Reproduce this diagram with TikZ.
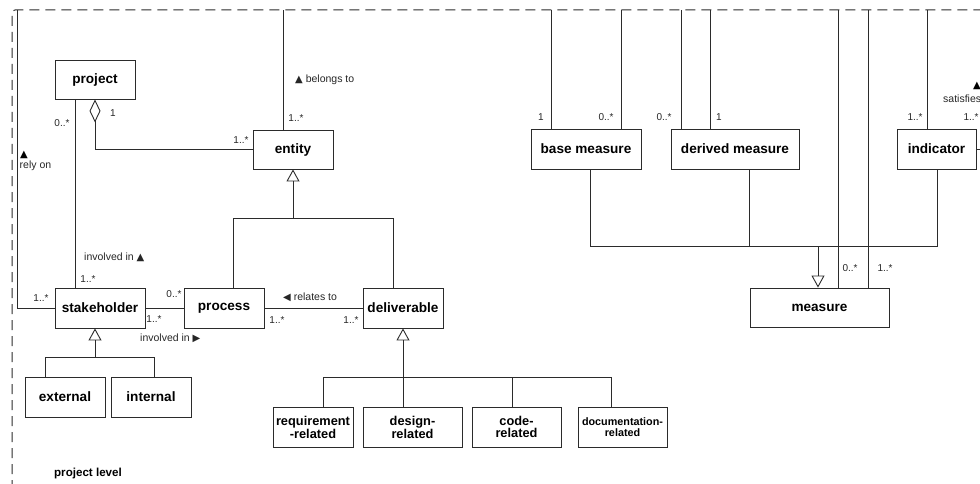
\documentclass[tikz,border=0pt]{standalone}
\usepackage{fontspec}
\setmainfont{Liberation Sans}
\newfontfamily\symfont{DejaVu Sans}
\usetikzlibrary{arrows.meta}
\definecolor{linecol}{HTML}{2B2B2B}
\definecolor{labcol}{HTML}{262626}
\newcommand{\tri}[1]{{\symfont\fontsize{10}{10}\selectfont #1}}

\begin{document}
\begin{tikzpicture}[x=1pt,y=-1pt,
  conn/.style={draw=linecol, line width=0.9pt},
  box/.style={draw=linecol, line width=0.9pt, fill=white, minimum height=40pt,
    inner sep=1pt, align=center, text=black,
    font=\fontsize{13.6}{15}\selectfont\bfseries},
  subbox/.style={box, font=\fontsize{12.8}{11.8}\selectfont\bfseries},
  mult/.style={font=\fontsize{10}{11}\selectfont, text=labcol, inner sep=0pt},
  lab/.style={font=\fontsize{10.5}{12}\selectfont, text=labcol, inner sep=0pt},
  sym/.style={font=\symfont\fontsize{10}{10}\selectfont, text=black, inner sep=0pt},
  gen/.style={conn, -{Triangle[open, length=12pt, width=13pt, line width=0.9pt]}},
  agg/.style={conn, -{Diamond[open, length=23pt, width=11pt, line width=0.9pt]}},
]
\useasboundingbox (0,0) rectangle (980,484);

% package frame
\draw[draw=linecol, line width=1pt, dash pattern=on 10pt off 6pt, rounded corners=3pt]
  (12,490) |- (990,10);

% ---------- project level ----------
\node[box, minimum width=80pt, minimum height=39pt] (project) at (95,79.5) {project};
\node[box, minimum width=80pt, minimum height=39pt] (entity) at (293,149.5) {entity};
\node[box, minimum width=90pt] (stakeholder) at (100,308) {stakeholder};
\node[box, minimum width=80pt] (process) at (224,308) {process};
\node[box, minimum width=80pt] (deliverable) at (403,308) {deliverable};
\node[box, minimum width=80pt] (external) at (65,397) {external};
\node[box, minimum width=80pt] (internal) at (151,397) {internal};
\node[subbox, minimum width=80pt] (reqrel) at (313,427) {requirement\\-related};
\node[subbox, minimum width=99pt] (desrel) at (412.5,427) {design-\\related};
\node[subbox, minimum width=89pt] (coderel) at (516.5,427) {code-\\related};
\node[box, minimum width=89pt, font=\fontsize{10.8}{11.3}\selectfont\bfseries]
  (docrel) at (622.5,427) {documentation-\\related};

\node[font=\fontsize{11.6}{13}\selectfont\bfseries, inner sep=0pt] (pllabel) at (88,473) {project level};

% free ends on the frame
\coordinate (relyTop) at (17,10);
\coordinate (belongsTop) at (283,10);

% rely on
\draw[conn] (stakeholder.west) -| (relyTop);
\node[sym] (relyArrow) at (24,155) {▲};
\node[lab, anchor=west] (relyLab) at (19.5,166) {rely on};
\node[mult] (m1) at (41,298) {1..*};

% project -- stakeholder (involved in)
\draw[conn] (project.south -| 75,0) -- (stakeholder.north -| 75,0);
\node[mult] (m2) at (62,123) {0..*};
\node[mult] (m3) at (88,279) {1..*};
\node[lab, anchor=west] (invLab1) at (84,257) {involved in \tri{▲}};

% project <>-- entity
\draw[agg] (entity.west) -| (project.south);
\node[mult] (m4) at (113,113) {1};
\node[mult] (m5) at (241,140) {1..*};

% entity belongs to
\draw[conn] (entity.north -| belongsTop) -- (belongsTop);
\node[mult] (m6) at (296,118) {1..*};
\node[lab, anchor=west] (belLab) at (295,80) {\tri{▲} belongs to};

% entity generalisation
\coordinate (eJ) at (293,218);
\coordinate (eL) at (233,218);
\coordinate (eR) at (393,218);
\draw[gen] (eJ) -- (entity.south);
\draw[conn] (process.north -| eL) -- (eL) -- (eR) -- (deliverable.north -| eR);

% stakeholder -- process
\draw[conn] (stakeholder.east) -- (process.west);
\node[mult] (m7) at (174,294) {0..*};
\node[mult] (m8) at (154,319) {1..*};
\node[lab, anchor=west] (invLab2) at (140,338) {involved in \tri{▶}};

% process -- deliverable
\draw[conn] (process.east) -- (deliverable.west);
\node[lab, anchor=west] (relLab) at (283,297) {\tri{◀} relates to};
\node[mult] (m9) at (277,320) {1..*};
\node[mult] (m10) at (351,320) {1..*};

% stakeholder generalisation
\coordinate (sJ) at (95,357);
\coordinate (sL) at (45,357);
\coordinate (sR) at (154,357);
\draw[gen] (sJ) -- (stakeholder.south -| sJ);
\draw[conn] (external.north -| sL) -- (sL) -- (sR) -- (internal.north -| sR);

% deliverable generalisation
\coordinate (dJ) at (403,377);
\coordinate (dA) at (323,377);
\coordinate (dC) at (512,377);
\coordinate (dD) at (611,377);
\draw[gen] (desrel.north -| dJ) -- (deliverable.south);
\draw[conn] (reqrel.north -| dA) -- (dA) -- (dD) -- (docrel.north -| dD);
\draw[conn] (coderel.north -| dC) -- (dC);

% ---------- measurement side ----------
\node[box, minimum width=110pt] (basem) at (586,149) {base measure};
\node[box, minimum width=128pt] (derivedm) at (735,149) {derived measure};
\node[box, minimum width=79pt] (indicator) at (936.5,149) {indicator};
\node[box, minimum width=139pt, minimum height=39pt] (measure) at (819.5,307.5) {measure};

\coordinate (bmA) at (551,10);
\coordinate (bmB) at (621,10);
\coordinate (dmA) at (681,10);
\coordinate (dmB) at (710,10);
\coordinate (msA) at (838,10);
\coordinate (msB) at (868,10);
\coordinate (indTop) at (927,10);
\coordinate (indRight) at (995,149);

\draw[conn] (basem.north -| bmA) -- (bmA);
\draw[conn] (basem.north -| bmB) -- (bmB);
\draw[conn] (derivedm.north -| dmA) -- (dmA);
\draw[conn] (derivedm.north -| dmB) -- (dmB);
\draw[conn] (measure.north -| msA) -- (msA);
\draw[conn] (measure.north -| msB) -- (msB);
\draw[conn] (indicator.north -| indTop) -- (indTop);
\draw[conn] (indicator.east) -- (indRight);

\node[mult] (m11) at (541,117) {1};
\node[mult] (m12) at (606,117) {0..*};
\node[mult] (m13) at (664,117) {0..*};
\node[mult] (m14) at (719,117) {1};
\node[mult] (m15) at (915,117) {1..*};
\node[mult] (m16) at (971,117) {1..*};
\node[mult] (m17) at (850,268) {0..*};
\node[mult] (m18) at (885,268) {1..*};
\node[sym] (satArrow) at (977,86) {▲};
\node[lab, anchor=west] (satLab) at (943,99) {satisfies};

% measure generalisation
\coordinate (mJ) at (818,246);
\coordinate (mL) at (590,246);
\coordinate (mD) at (749,246);
\coordinate (mR) at (937,246);
\draw[gen] (mJ) -- (measure.north -| mJ);
\draw[conn] (basem.south -| mL) -- (mL) -- (mR) -- (indicator.south -| mR);
\draw[conn] (derivedm.south -| mD) -- (mD);

\end{tikzpicture}
\end{document}
